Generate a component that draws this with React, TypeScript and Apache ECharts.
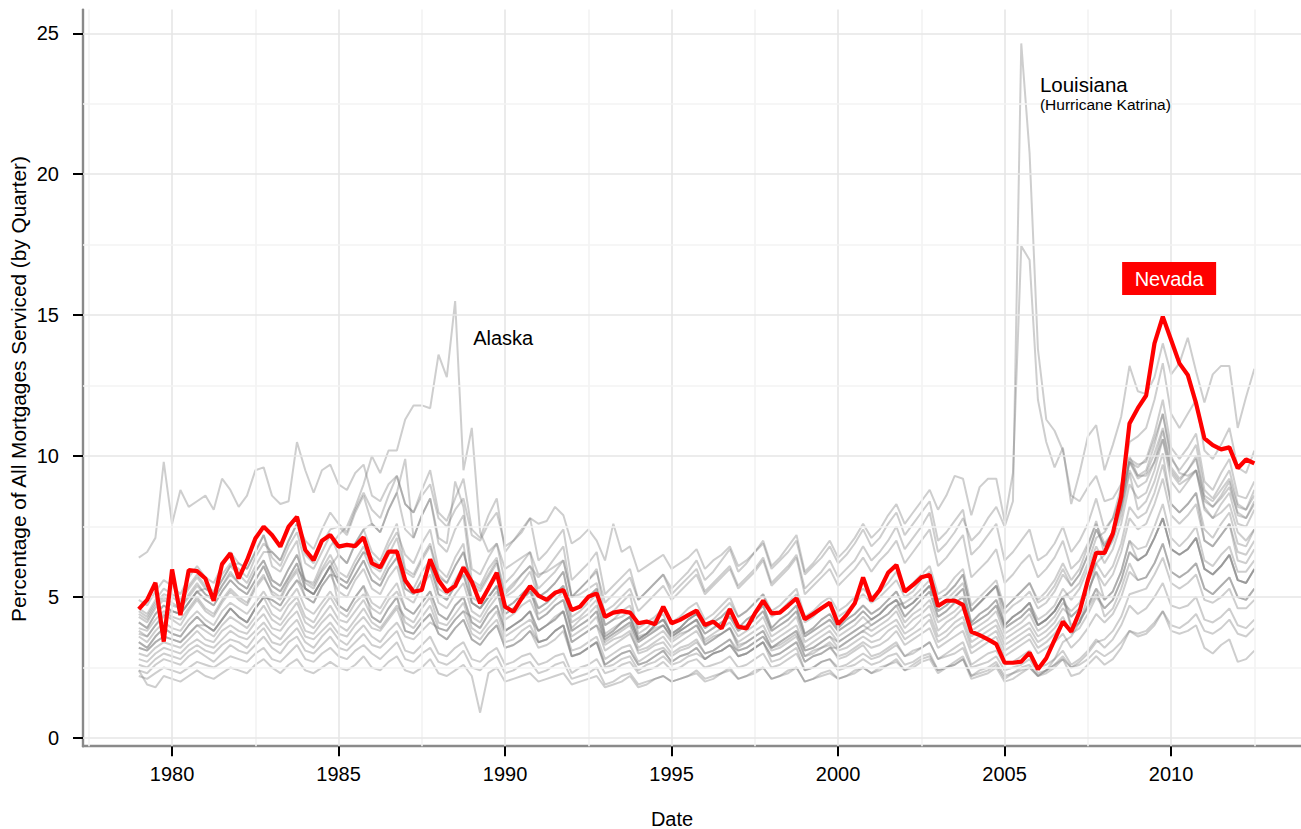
import React, { useEffect, useRef } from "react";
import * as echarts from "echarts";

// ---------- axes ----------
const FIRST_YEAR = 1979;
const X_MIN = 1977.325;
const X_MAX = 2013.9;
const Y_MIN = -0.29;
const Y_MAX = 25.84;
const X_TICKS = [1980, 1985, 1990, 1995, 2000, 2005, 2010];
const X_MINOR = [1977.5, 1982.5, 1987.5, 1992.5, 1997.5, 2002.5, 2007.5, 2012.5];
const Y_TICKS = [0, 5, 10, 15, 20, 25];
const Y_MINOR = [2.5, 7.5, 12.5, 17.5, 22.5];

// ---------- data (percent, quarterly 1979 Q1 .. 2012 Q3) ----------
const NEVADA = [
  4.57, 4.9, 5.51, 3.42, 5.98, 4.36, 5.96, 5.92, 5.66, 4.87, 6.17, 6.55,
  5.66, 6.31, 7.08, 7.5, 7.2, 6.79, 7.5, 7.85, 6.67, 6.31, 7.0, 7.2,
  6.79, 6.85, 6.81, 7.12, 6.2, 6.05, 6.61, 6.61, 5.6, 5.19, 5.25, 6.34,
  5.6, 5.19, 5.39, 6.05, 5.54, 4.78, 5.31, 5.86, 4.66, 4.48, 4.96, 5.39,
  5.05, 4.9, 5.15, 5.25, 4.54, 4.66, 5.01, 5.13, 4.3, 4.45, 4.5, 4.45,
  4.07, 4.13, 4.04, 4.66, 4.07, 4.19, 4.36, 4.52, 4.01, 4.13, 3.89, 4.57,
  3.95, 3.89, 4.42, 4.87, 4.42, 4.45, 4.7, 4.96, 4.21, 4.4, 4.6, 4.8,
  4.04, 4.36, 4.78, 5.7, 4.87, 5.25, 5.86, 6.14, 5.19, 5.43, 5.7, 5.78,
  4.68, 4.87, 4.87, 4.72, 3.77, 3.65, 3.5, 3.33, 2.67, 2.67, 2.71, 3.03,
  2.44, 2.83, 3.48, 4.13, 3.77, 4.48, 5.6, 6.57, 6.57, 7.26, 8.56, 11.16,
  11.7, 12.15, 14.0, 14.95, 14.12, 13.29, 12.88, 11.87, 10.63, 10.39, 10.24, 10.31,
  9.57, 9.88, 9.74,
];

const ALASKA = [
  3.8, 3.6, 4.0, 4.4, 4.2, 4.0, 4.5, 4.9, 4.5, 4.3, 4.8, 5.2,
  4.9, 4.7, 5.3, 5.7, 5.2, 5.0, 5.6, 6.0, 5.6, 5.5, 6.2, 6.8,
  7.2, 7.5, 8.2, 9.0, 10.0, 9.4, 10.2, 10.2, 11.3, 11.8, 11.8, 11.7,
  13.6, 12.8, 15.5, 9.5, 11.0, 7.3, 6.6, 6.9, 6.0, 6.2, 6.4, 6.6,
  5.8, 5.9, 6.1, 6.3, 5.0, 5.1, 5.3, 5.5, 4.0, 4.2, 4.3, 4.5,
  3.6, 3.7, 3.9, 4.0, 3.5, 3.7, 3.8, 4.0, 3.4, 3.6, 3.7, 3.9,
  3.3, 3.4, 3.6, 3.8, 3.2, 3.3, 3.5, 3.7, 2.9, 3.0, 3.2, 3.3,
  2.8, 2.9, 3.1, 3.3, 2.9, 3.0, 3.2, 3.4, 2.9, 3.0, 3.2, 3.4,
  2.8, 2.9, 3.0, 3.2, 2.5, 2.6, 2.7, 2.9, 2.4, 2.5, 2.6, 2.8,
  2.3, 2.4, 2.6, 2.9, 2.5, 2.6, 2.8, 3.1, 2.9, 3.1, 3.4, 3.8,
  3.7, 3.8, 4.1, 4.5, 4.0, 3.9, 4.1, 4.4, 3.8, 3.7, 3.9, 4.2,
  3.7, 3.6, 3.9,
];

const LOUISIANA = [
  4.6, 4.4, 4.9, 5.3, 5.1, 4.9, 5.4, 5.8, 5.4, 5.2, 5.8, 6.2,
  6.0, 5.7, 6.4, 6.9, 6.6, 6.3, 7.0, 7.6, 7.0, 6.7, 7.4, 8.0,
  7.6, 7.3, 8.1, 8.7, 8.1, 7.8, 8.6, 9.3, 8.3, 8.0, 8.8, 9.5,
  8.0, 7.7, 8.5, 9.2, 7.4, 7.1, 7.9, 8.5, 6.6, 7.0, 7.4, 7.8,
  6.3, 6.6, 7.0, 7.4, 5.6, 5.9, 6.2, 6.6, 5.1, 5.4, 5.7, 6.0,
  4.9, 5.2, 5.5, 5.8, 5.1, 5.4, 5.7, 6.0, 5.2, 5.5, 5.8, 6.1,
  5.4, 5.7, 6.0, 6.4, 5.5, 5.8, 6.1, 6.5, 5.3, 5.6, 5.9, 6.3,
  5.7, 6.0, 6.3, 6.8, 6.3, 6.6, 7.0, 7.5, 6.7, 7.1, 7.5, 8.0,
  6.6, 6.9, 7.3, 7.8, 7.0, 7.3, 7.8, 8.2, 7.5, 8.4, 24.64, 20.74,
  13.8, 11.3, 10.9, 10.2, 8.6, 8.4, 8.9, 9.3, 8.4, 8.5, 9.0, 10.0,
  9.3, 9.3, 9.8, 10.6, 9.4, 9.0, 9.2, 9.5, 8.5, 8.2, 8.5, 8.9,
  8.0, 7.8, 8.3,
];

const MISSISSIPPI = [
  4.4, 4.2, 4.7, 5.0, 4.8, 4.6, 5.1, 5.5, 5.1, 4.9, 5.4, 5.9,
  5.5, 5.3, 5.9, 6.3, 5.6, 5.4, 6.0, 6.5, 5.6, 5.4, 6.0, 6.5,
  5.9, 5.7, 6.3, 6.8, 6.1, 5.9, 6.5, 7.1, 5.9, 5.7, 6.3, 6.8,
  5.7, 5.5, 6.1, 6.6, 5.5, 5.3, 5.8, 6.3, 5.2, 5.5, 5.8, 6.1,
  5.3, 5.6, 5.9, 6.3, 5.0, 5.3, 5.6, 5.9, 4.8, 5.1, 5.4, 5.7,
  4.9, 5.2, 5.5, 5.8, 5.3, 5.6, 5.9, 6.3, 5.6, 5.9, 6.3, 6.7,
  5.9, 6.2, 6.6, 7.0, 6.1, 6.4, 6.8, 7.2, 5.9, 6.2, 6.6, 7.0,
  6.4, 6.7, 7.1, 7.6, 7.1, 7.4, 7.9, 8.3, 7.6, 8.0, 8.4, 8.8,
  8.1, 8.6, 9.3, 9.2, 7.9, 8.9, 9.2, 9.2, 7.7, 9.4, 17.45, 16.96,
  12.0, 10.5, 9.6, 10.3, 8.3, 9.4, 10.7, 11.1, 9.5, 10.4, 11.4, 13.2,
  12.3, 12.2, 12.8, 14.0, 12.9, 13.3, 14.2, 13.0, 11.9, 12.9, 13.2, 13.2,
  11.0, 12.1, 13.1,
];

const HIGH_EARLY = [
  6.4, 6.6, 7.1, 9.8, 7.6, 8.8, 8.2, 8.4, 8.6, 8.1, 9.2, 8.8,
  8.2, 8.6, 9.5, 9.6, 8.6, 8.3, 8.4, 10.5, 9.5, 8.7, 9.5, 9.7,
  9.0, 8.8, 9.4, 9.7, 8.6, 8.4, 9.0, 9.3, 8.3, 8.0, 8.6, 9.0,
  7.8, 7.5, 8.1, 8.5, 7.2, 7.0, 7.6, 8.0, 6.8, 7.0, 7.3, 7.8,
  7.6, 7.7, 8.2, 7.9, 6.9, 7.1, 7.4, 7.0, 6.3, 7.6, 6.6, 6.8,
  5.9, 6.1, 6.3, 6.5, 6.0, 6.2, 6.4, 6.7, 6.0, 6.3, 6.5, 6.8,
  6.1, 6.3, 6.6, 6.9, 6.0, 6.3, 6.6, 7.0, 5.8, 6.1, 6.4, 6.8,
  6.2, 6.5, 6.9, 7.4, 6.8, 7.1, 7.6, 8.0, 7.2, 7.6, 8.0, 8.4,
  7.0, 7.3, 7.7, 8.1, 6.5, 6.8, 7.2, 7.6, 6.3, 6.6, 7.0, 7.4,
  6.3, 6.5, 6.9, 7.5, 6.6, 7.0, 7.6, 8.5, 7.4, 7.8, 8.6, 9.8,
  9.2, 9.4, 10.1, 11.0, 9.6, 9.2, 9.5, 9.9, 8.6, 8.4, 8.8, 9.2,
  8.2, 8.1, 8.6,
];

const STATE_G1 = [
  2.4, 1.9, 1.8, 2.2, 2.1, 2.0, 2.2, 2.4, 2.2, 2.1, 2.3, 2.5,
  2.4, 2.3, 2.6, 2.8, 2.5, 2.3, 2.6, 2.8, 2.4, 2.3, 2.5, 2.7,
  2.5, 2.4, 2.6, 2.9, 2.5, 2.4, 2.7, 2.9, 2.4, 2.3, 2.5, 2.8,
  2.3, 2.2, 2.4, 2.6, 2.2, 0.9, 2.3, 2.5, 2.0, 2.1, 2.2, 2.3,
  2.0, 2.1, 2.2, 2.3, 1.9, 2.0, 2.1, 2.2, 1.8, 1.9, 2.0, 2.2,
  1.8, 1.9, 2.1, 2.2, 2.0, 2.1, 2.2, 2.4, 2.1, 2.2, 2.3, 2.5,
  2.1, 2.2, 2.4, 2.5, 2.1, 2.2, 2.4, 2.5, 2.0, 2.1, 2.3, 2.4,
  2.1, 2.2, 2.4, 2.5, 2.3, 2.5, 2.6, 2.8, 2.4, 2.6, 2.8, 2.9,
  2.4, 2.5, 2.7, 2.9, 2.2, 2.4, 2.5, 2.7, 2.2, 2.3, 2.5, 2.6,
  2.2, 2.4, 2.6, 2.8, 2.2, 2.3, 2.6, 2.9, 2.6, 2.8, 3.2, 3.8,
  3.6, 3.7, 4.0, 4.5, 3.8, 3.7, 3.8, 4.0, 3.2, 3.0, 3.3, 3.5,
  2.7, 2.8, 3.1,
];

const STATE_G2 = [
  2.4, 2.3, 2.6, 2.8, 2.7, 2.6, 2.9, 3.1, 2.9, 2.7, 3.0, 3.3,
  3.1, 3.0, 3.3, 3.6, 3.2, 3.0, 3.4, 3.6, 3.1, 3.0, 3.3, 3.6,
  3.2, 3.1, 3.4, 3.7, 3.3, 3.2, 3.5, 3.8, 3.1, 3.0, 3.3, 3.6,
  3.0, 2.9, 3.2, 3.4, 2.8, 2.7, 3.0, 3.2, 2.6, 2.7, 2.9, 3.0,
  2.6, 2.7, 2.9, 3.0, 2.3, 2.5, 2.6, 2.8, 2.3, 2.4, 2.6, 2.7,
  2.3, 2.4, 2.5, 2.7, 2.4, 2.5, 2.7, 2.8, 2.5, 2.6, 2.7, 2.9,
  2.5, 2.6, 2.8, 3.0, 2.5, 2.6, 2.8, 3.0, 2.4, 2.5, 2.7, 2.8,
  2.5, 2.6, 2.8, 3.0, 2.8, 2.9, 3.1, 3.3, 2.9, 3.1, 3.2, 3.4,
  2.8, 3.0, 3.2, 3.4, 2.6, 2.8, 3.0, 3.1, 2.6, 2.7, 2.9, 3.1,
  2.5, 2.6, 2.8, 3.1, 2.6, 2.8, 3.1, 3.5, 3.2, 3.5, 4.0, 4.7,
  4.4, 4.6, 5.0, 5.5, 4.7, 4.6, 4.7, 5.0, 4.2, 4.1, 4.3, 4.6,
  4.0, 3.9, 4.2,
];

const STATE_G3 = [
  2.8, 2.7, 3.0, 3.2, 3.1, 3.0, 3.3, 3.5, 3.3, 3.2, 3.5, 3.8,
  3.6, 3.5, 3.8, 4.1, 3.7, 3.5, 3.9, 4.2, 3.6, 3.5, 3.8, 4.1,
  3.7, 3.6, 4.0, 4.3, 3.9, 3.8, 4.2, 4.6, 3.8, 3.7, 4.1, 4.4,
  3.7, 3.5, 3.9, 4.2, 3.5, 3.3, 3.7, 4.0, 3.2, 3.3, 3.5, 3.8,
  3.2, 3.3, 3.5, 3.8, 2.9, 3.0, 3.2, 3.4, 2.6, 2.8, 3.0, 3.1,
  2.6, 2.7, 2.9, 3.1, 2.7, 2.9, 3.0, 3.2, 2.8, 3.0, 3.1, 3.3,
  2.9, 3.0, 3.2, 3.4, 2.9, 3.0, 3.2, 3.4, 2.7, 2.9, 3.0, 3.2,
  2.9, 3.0, 3.2, 3.4, 3.2, 3.3, 3.5, 3.8, 3.3, 3.5, 3.7, 3.9,
  3.2, 3.4, 3.6, 3.8, 3.0, 3.2, 3.4, 3.6, 2.9, 3.1, 3.3, 3.5,
  3.0, 3.2, 3.4, 3.7, 3.2, 3.5, 3.9, 4.4, 4.1, 4.4, 5.0, 5.9,
  5.6, 5.7, 6.2, 6.9, 5.9, 5.7, 5.9, 6.2, 5.3, 5.1, 5.4, 5.7,
  5.0, 4.9, 5.3,
];

const STATE_G4 = [
  3.2, 3.1, 3.4, 3.6, 3.5, 3.4, 3.7, 4.0, 3.8, 3.6, 4.0, 4.3,
  4.1, 3.9, 4.3, 4.7, 4.2, 4.0, 4.4, 4.8, 4.1, 3.9, 4.3, 4.7,
  4.2, 4.1, 4.5, 4.9, 4.3, 4.1, 4.6, 5.0, 4.1, 3.9, 4.3, 4.7,
  3.9, 3.8, 4.2, 4.5, 3.7, 3.5, 3.9, 4.2, 3.4, 3.5, 3.8, 4.0,
  3.4, 3.5, 3.8, 4.0, 3.1, 3.2, 3.4, 3.6, 2.8, 3.0, 3.2, 3.3,
  2.7, 2.9, 3.1, 3.2, 2.9, 3.1, 3.2, 3.4, 3.0, 3.1, 3.3, 3.5,
  3.1, 3.2, 3.4, 3.6, 3.1, 3.2, 3.4, 3.6, 2.9, 3.1, 3.2, 3.4,
  3.1, 3.2, 3.4, 3.6, 3.4, 3.5, 3.8, 4.0, 3.5, 3.7, 3.9, 4.2,
  3.4, 3.6, 3.9, 4.1, 3.2, 3.4, 3.6, 3.8, 3.1, 3.3, 3.5, 3.7,
  3.2, 3.4, 3.7, 4.1, 3.8, 4.1, 4.7, 5.3, 4.9, 5.2, 5.9, 7.0,
  6.7, 6.8, 7.5, 8.3, 7.1, 6.8, 7.1, 7.5, 6.3, 6.1, 6.5, 6.8,
  5.9, 5.9, 6.3,
];

const STATE_G5 = [
  3.6, 3.4, 3.8, 4.1, 3.9, 3.8, 4.2, 4.5, 4.2, 4.0, 4.5, 4.8,
  4.6, 4.4, 4.8, 5.2, 4.7, 4.5, 4.9, 5.3, 4.6, 4.4, 4.8, 5.2,
  4.7, 4.5, 5.0, 5.4, 4.8, 4.6, 5.1, 5.5, 4.6, 4.4, 4.8, 5.2,
  4.4, 4.2, 4.7, 5.0, 4.1, 3.9, 4.4, 4.7, 3.8, 4.0, 4.2, 4.5,
  3.8, 4.0, 4.2, 4.5, 3.4, 3.6, 3.8, 4.0, 3.1, 3.3, 3.5, 3.7,
  3.1, 3.2, 3.4, 3.6, 3.2, 3.4, 3.6, 3.8, 3.3, 3.5, 3.7, 3.9,
  3.4, 3.6, 3.8, 4.0, 3.4, 3.6, 3.8, 4.0, 3.2, 3.4, 3.6, 3.8,
  3.4, 3.6, 3.8, 4.0, 3.8, 4.0, 4.2, 4.5, 3.9, 4.2, 4.4, 4.7,
  3.8, 4.1, 4.3, 4.6, 3.6, 3.8, 4.0, 4.2, 3.5, 3.7, 3.9, 4.1,
  3.6, 3.8, 4.1, 4.6, 4.3, 4.6, 5.2, 5.9, 5.4, 5.8, 6.6, 7.8,
  7.4, 7.6, 8.3, 9.2, 7.9, 7.6, 7.9, 8.3, 7.0, 6.8, 7.2, 7.6,
  6.6, 6.5, 7.0,
];

const STATE_G6 = [
  3.9, 3.8, 4.2, 4.5, 4.3, 4.2, 4.6, 5.0, 4.6, 4.4, 4.9, 5.3,
  5.0, 4.8, 5.4, 5.8, 5.1, 4.9, 5.5, 5.9, 5.0, 4.8, 5.4, 5.8,
  5.2, 5.0, 5.6, 6.0, 5.3, 5.1, 5.7, 6.1, 5.0, 4.8, 5.4, 5.8,
  4.8, 4.6, 5.1, 5.5, 4.5, 4.3, 4.8, 5.2, 4.2, 4.4, 4.7, 4.9,
  4.2, 4.4, 4.7, 4.9, 3.8, 4.0, 4.2, 4.5, 3.4, 3.6, 3.8, 4.0,
  3.2, 3.4, 3.6, 3.8, 3.4, 3.6, 3.8, 4.0, 3.5, 3.7, 3.9, 4.1,
  3.6, 3.8, 4.0, 4.3, 3.6, 3.8, 4.0, 4.3, 3.4, 3.6, 3.8, 4.0,
  3.6, 3.8, 4.0, 4.3, 4.0, 4.2, 4.4, 4.7, 4.1, 4.4, 4.6, 4.9,
  4.1, 4.3, 4.5, 4.8, 3.8, 4.0, 4.2, 4.5, 3.7, 3.9, 4.1, 4.4,
  3.8, 4.0, 4.3, 4.8, 4.5, 4.8, 5.5, 6.2, 5.7, 6.1, 6.9, 8.2,
  7.8, 8.0, 8.7, 9.7, 8.3, 8.0, 8.3, 8.7, 7.4, 7.1, 7.6, 8.0,
  6.9, 6.8, 7.4,
];

const STATE_G7 = [
  4.3, 4.1, 4.6, 4.9, 4.7, 4.6, 5.0, 5.4, 5.1, 4.9, 5.4, 5.8,
  5.5, 5.3, 5.9, 6.3, 5.6, 5.4, 6.0, 6.5, 5.5, 5.3, 5.9, 6.3,
  5.7, 5.5, 6.1, 6.6, 5.9, 5.6, 6.2, 6.7, 5.5, 5.3, 5.9, 6.3,
  5.3, 5.1, 5.6, 6.1, 5.0, 4.8, 5.3, 5.7, 4.6, 4.8, 5.1, 5.4,
  4.6, 4.8, 5.1, 5.4, 4.1, 4.3, 4.6, 4.9, 3.7, 3.9, 4.1, 4.3,
  3.5, 3.7, 4.0, 4.2, 3.7, 3.9, 4.2, 4.4, 3.9, 4.1, 4.3, 4.6,
  3.9, 4.2, 4.4, 4.7, 3.9, 4.2, 4.4, 4.7, 3.7, 3.9, 4.2, 4.4,
  3.9, 4.2, 4.4, 4.7, 4.4, 4.6, 4.9, 5.2, 4.6, 4.8, 5.1, 5.4,
  4.5, 4.7, 5.0, 5.3, 4.1, 4.4, 4.6, 4.9, 4.0, 4.3, 4.5, 4.8,
  4.2, 4.4, 4.7, 5.3, 4.9, 5.3, 6.0, 6.8, 6.2, 6.7, 7.6, 9.0,
  8.5, 8.7, 9.5, 10.6, 9.1, 8.7, 9.1, 9.5, 8.1, 7.8, 8.3, 8.7,
  7.6, 7.5, 8.1,
];

const STATE_G8 = [
  4.9, 4.7, 5.2, 5.6, 5.4, 5.1, 5.7, 6.1, 5.7, 5.5, 6.1, 6.6,
  6.2, 6.0, 6.6, 7.2, 6.4, 6.1, 6.8, 7.3, 6.2, 6.0, 6.6, 7.2,
  6.5, 6.2, 6.9, 7.4, 6.6, 6.3, 7.0, 7.6, 6.0, 5.8, 6.4, 6.9,
  5.8, 5.5, 6.1, 6.6, 5.4, 5.2, 5.7, 6.2, 5.0, 5.2, 5.5, 5.9,
  5.0, 5.2, 5.5, 5.9, 4.5, 4.7, 5.0, 5.3, 4.0, 4.2, 4.5, 4.7,
  3.9, 4.1, 4.3, 4.6, 4.1, 4.3, 4.6, 4.8, 4.2, 4.4, 4.7, 5.0,
  4.3, 4.5, 4.8, 5.1, 4.3, 4.5, 4.8, 5.1, 4.1, 4.3, 4.6, 4.8,
  4.3, 4.5, 4.8, 5.1, 4.8, 5.0, 5.3, 5.6, 5.0, 5.2, 5.6, 5.9,
  4.9, 5.1, 5.4, 5.8, 4.5, 4.8, 5.1, 5.4, 4.4, 4.7, 4.9, 5.2,
  4.6, 4.8, 5.2, 5.8, 5.4, 5.8, 6.5, 7.4, 6.8, 7.3, 8.3, 9.8,
  9.3, 9.5, 10.4, 11.5, 9.9, 9.5, 9.9, 10.4, 8.8, 8.5, 9.0, 9.5,
  8.3, 8.1, 8.8,
];

const STATE_G9 = [
  4.5, 4.3, 4.8, 5.1, 5.0, 4.8, 5.3, 5.7, 5.3, 5.1, 5.6, 6.1,
  5.8, 5.5, 6.1, 6.6, 6.6, 6.3, 7.0, 7.6, 6.5, 6.2, 6.9, 7.4,
  7.5, 7.2, 8.0, 8.6, 7.6, 7.3, 8.1, 8.7, 9.9, 7.1, 7.9, 8.5,
  7.1, 6.9, 9.1, 8.2, 6.0, 5.8, 6.4, 6.9, 5.5, 5.8, 6.2, 6.6,
  5.0, 5.2, 5.5, 5.9, 4.5, 4.7, 5.0, 5.3, 3.6, 3.8, 4.1, 4.3,
  3.5, 3.7, 4.0, 4.2, 3.7, 3.9, 4.2, 4.4, 3.9, 4.1, 4.3, 4.6,
  3.9, 4.2, 4.4, 4.7, 3.9, 4.2, 4.4, 4.7, 3.7, 3.9, 4.2, 4.4,
  3.9, 4.2, 4.4, 4.7, 4.4, 4.6, 4.9, 5.2, 4.6, 4.8, 5.1, 5.4,
  4.5, 4.7, 5.0, 5.3, 4.1, 4.4, 4.6, 4.9, 4.0, 4.3, 4.5, 4.8,
  4.0, 4.2, 4.5, 5.0, 4.0, 4.2, 4.6, 5.1, 4.6, 4.9, 5.6, 6.6,
  6.3, 6.5, 7.1, 7.8, 6.7, 6.5, 6.7, 7.1, 6.0, 5.8, 6.1, 6.5,
  5.6, 5.5, 6.0,
];

const STATE_G10 = [
  3.4, 3.2, 3.6, 3.9, 3.7, 3.6, 4.0, 4.3, 4.0, 3.8, 4.2, 4.6,
  4.3, 4.1, 4.6, 5.0, 4.4, 4.2, 4.7, 5.0, 4.3, 4.1, 4.6, 5.0,
  4.5, 4.3, 4.8, 5.1, 4.6, 4.4, 4.9, 5.2, 4.6, 4.4, 4.8, 5.2,
  4.4, 4.2, 4.7, 5.0, 4.1, 3.9, 4.4, 4.7, 3.8, 4.0, 4.2, 4.5,
  3.8, 4.0, 4.2, 4.5, 3.4, 3.6, 3.8, 4.0, 3.5, 3.7, 3.9, 4.1,
  3.4, 3.6, 3.8, 4.0, 3.6, 3.8, 4.0, 4.2, 3.7, 3.9, 4.1, 4.3,
  3.8, 4.0, 4.2, 4.5, 3.8, 4.0, 4.2, 4.5, 3.6, 3.8, 4.0, 4.2,
  3.8, 4.0, 4.2, 4.5, 4.2, 4.4, 4.7, 4.9, 4.3, 4.6, 4.9, 5.2,
  4.3, 4.5, 4.8, 5.0, 4.0, 4.2, 4.4, 4.7, 3.9, 4.1, 4.3, 4.6,
  4.0, 4.2, 4.5, 5.0, 5.2, 5.5, 6.2, 7.1, 7.3, 7.8, 8.9, 10.5,
  10.7, 11.0, 12.0, 13.3, 11.5, 11.0, 11.5, 12.0, 10.2, 9.9, 10.4, 11.0,
  9.6, 9.4, 10.2,
];

const STATE_G11 = [
  3.0, 2.9, 3.2, 3.4, 3.3, 3.2, 3.5, 3.8, 3.5, 3.4, 3.8, 4.0,
  3.8, 3.7, 4.1, 4.4, 3.9, 3.8, 4.2, 4.5, 3.8, 3.7, 4.1, 4.4,
  4.0, 3.8, 4.2, 4.6, 4.1, 3.9, 4.3, 4.7, 4.3, 4.1, 4.6, 5.0,
  4.1, 4.0, 4.4, 4.8, 3.9, 3.7, 4.1, 4.5, 3.6, 3.8, 4.0, 4.2,
  3.8, 4.0, 4.3, 4.5, 3.6, 3.8, 4.0, 4.3, 3.3, 3.5, 3.6, 3.8,
  3.0, 3.1, 3.3, 3.4, 3.0, 3.2, 3.3, 3.5, 3.0, 3.1, 3.3, 3.5,
  2.9, 3.0, 3.2, 3.4, 2.7, 2.8, 3.0, 3.2, 2.4, 2.5, 2.7, 2.8,
  2.4, 2.5, 2.6, 2.8, 2.6, 2.7, 2.9, 3.0, 2.6, 2.7, 2.9, 3.0,
  2.4, 2.5, 2.6, 2.8, 2.1, 2.2, 2.3, 2.5, 2.0, 2.1, 2.3, 2.5,
  2.2, 2.4, 2.8, 3.4, 3.6, 4.1, 5.0, 6.2, 6.5, 7.1, 8.2, 9.9,
  9.7, 9.8, 10.6, 11.5, 10.0, 9.4, 9.3, 9.5, 8.2, 7.8, 8.0, 8.3,
  7.3, 7.0, 7.4,
];

const STATE_G12 = [
  4.1, 3.9, 4.4, 4.7, 4.5, 4.4, 4.8, 5.2, 4.9, 4.7, 5.2, 5.6,
  5.3, 5.1, 5.6, 6.1, 5.4, 5.2, 5.7, 6.2, 5.3, 5.1, 5.6, 6.1,
  5.5, 5.3, 5.8, 6.3, 5.6, 5.4, 6.0, 6.4, 5.3, 5.1, 5.6, 6.1,
  5.1, 4.9, 5.4, 5.8, 4.8, 4.6, 5.0, 5.4, 4.4, 4.6, 4.9, 5.2,
  4.6, 4.8, 5.1, 5.4, 4.3, 4.5, 4.8, 5.1, 4.5, 4.7, 5.0, 5.3,
  4.5, 4.8, 5.1, 5.4, 4.9, 5.2, 5.5, 5.8, 5.1, 5.4, 5.7, 6.0,
  5.3, 5.6, 5.9, 6.3, 5.4, 5.7, 6.0, 6.4, 5.1, 5.4, 5.7, 6.0,
  5.4, 5.7, 6.0, 6.4, 5.9, 6.3, 6.6, 7.0, 6.2, 6.6, 7.0, 7.4,
  6.1, 6.4, 6.8, 7.2, 5.7, 6.0, 6.3, 6.7, 5.5, 5.8, 6.2, 6.5,
  5.7, 6.0, 6.4, 7.0, 6.0, 6.3, 6.9, 7.6, 6.9, 7.3, 8.1, 9.5,
  8.9, 9.1, 9.8, 10.9, 9.5, 9.1, 9.5, 10.0, 8.4, 8.2, 8.6, 9.1,
  7.9, 7.8, 8.4,
];

const STATE_G13 = [
  3.4, 3.2, 3.6, 3.9, 3.7, 3.6, 4.0, 4.3, 4.0, 3.8, 4.2, 4.6,
  4.3, 4.1, 4.6, 5.0, 4.9, 4.7, 5.2, 5.6, 5.3, 5.1, 5.6, 6.1,
  6.5, 6.2, 6.9, 7.4, 7.6, 7.3, 8.1, 8.7, 7.4, 7.1, 7.9, 8.5,
  6.9, 6.6, 7.4, 7.9, 5.6, 5.4, 6.0, 6.4, 4.6, 4.8, 5.1, 5.4,
  4.2, 4.4, 4.7, 4.9, 3.8, 4.0, 4.2, 4.5, 3.5, 3.7, 3.9, 4.1,
  3.4, 3.6, 3.8, 4.0, 3.6, 3.8, 4.0, 4.2, 3.7, 3.9, 4.1, 4.3,
  3.8, 4.0, 4.2, 4.5, 3.8, 4.0, 4.2, 4.5, 3.6, 3.8, 4.0, 4.2,
  3.8, 4.0, 4.2, 4.5, 4.2, 4.4, 4.7, 4.9, 4.3, 4.6, 4.9, 5.2,
  4.3, 4.5, 4.8, 5.0, 4.0, 4.2, 4.4, 4.7, 3.9, 4.1, 4.3, 4.6,
  4.0, 4.2, 4.5, 5.0, 3.9, 4.1, 4.7, 5.3, 4.3, 4.6, 5.3, 6.2,
  5.6, 5.7, 6.2, 6.9, 5.9, 5.7, 5.9, 6.2, 5.3, 5.1, 5.4, 5.7,
  5.0, 4.9, 5.3,
];

const STATE_G14 = [
  2.6, 2.5, 2.8, 3.0, 2.9, 2.8, 3.1, 3.3, 3.1, 3.0, 3.3, 3.5,
  3.4, 3.2, 3.6, 3.9, 3.4, 3.3, 3.6, 3.9, 3.4, 3.2, 3.6, 3.9,
  3.5, 3.3, 3.7, 4.0, 3.6, 3.4, 3.8, 4.1, 3.6, 3.5, 3.8, 4.1,
  3.9, 3.8, 4.2, 4.5, 4.3, 4.1, 4.6, 5.0, 5.1, 5.4, 5.8, 6.1,
  5.7, 6.0, 6.4, 6.8, 5.0, 5.3, 5.6, 6.0, 4.3, 4.5, 4.8, 5.1,
  3.7, 3.9, 4.2, 4.4, 3.6, 3.8, 4.0, 4.2, 3.3, 3.5, 3.7, 3.9,
  3.2, 3.4, 3.6, 3.8, 3.2, 3.4, 3.6, 3.8, 3.1, 3.2, 3.4, 3.6,
  3.2, 3.4, 3.6, 3.8, 3.6, 3.8, 4.0, 4.2, 3.7, 3.9, 4.2, 4.4,
  3.6, 3.8, 4.1, 4.3, 3.4, 3.6, 3.8, 4.0, 3.3, 3.5, 3.7, 3.9,
  3.4, 3.6, 3.9, 4.3, 3.7, 3.9, 4.4, 5.0, 4.6, 4.9, 5.6, 6.6,
  6.3, 6.5, 7.1, 7.8, 6.7, 6.5, 6.7, 7.1, 6.0, 5.8, 6.1, 6.5,
  5.6, 5.5, 6.0,
];

const STATE_G15 = [
  3.2, 3.1, 3.4, 3.6, 3.5, 3.4, 3.7, 4.0, 4.0, 3.8, 4.2, 4.6,
  4.3, 4.1, 4.6, 5.0, 4.9, 4.7, 5.2, 5.6, 5.0, 4.8, 5.4, 5.8,
  5.7, 5.5, 6.1, 6.6, 6.4, 6.1, 6.8, 7.3, 6.5, 6.2, 6.9, 7.4,
  6.0, 5.7, 6.4, 6.9, 4.8, 4.6, 5.0, 5.4, 3.8, 4.0, 4.2, 4.5,
  3.4, 3.5, 3.8, 4.0, 2.9, 3.0, 3.2, 3.4, 2.6, 2.8, 3.0, 3.1,
  2.6, 2.7, 2.9, 3.1, 2.7, 2.9, 3.0, 3.2, 2.8, 3.0, 3.1, 3.3,
  2.9, 3.0, 3.2, 3.4, 2.9, 3.0, 3.2, 3.4, 2.7, 2.9, 3.0, 3.2,
  3.2, 3.4, 3.6, 3.8, 4.0, 4.2, 4.4, 4.7, 4.8, 5.0, 5.3, 5.6,
  4.9, 5.1, 5.4, 5.8, 4.5, 4.8, 5.1, 5.4, 4.0, 4.3, 4.5, 4.8,
  4.0, 4.2, 4.5, 5.0, 4.3, 4.6, 5.2, 5.9, 4.9, 5.2, 5.9, 7.0,
  6.3, 6.5, 7.1, 7.8, 6.7, 6.5, 6.7, 7.1, 6.0, 5.8, 6.1, 6.5,
  5.6, 5.5, 6.0,
];

const STATE_G16 = [
  4.1, 3.9, 4.4, 4.7, 4.5, 4.4, 4.8, 5.2, 4.9, 4.7, 5.2, 5.6,
  5.3, 5.1, 5.6, 6.1, 5.4, 5.2, 5.7, 6.2, 5.3, 5.1, 5.6, 6.1,
  5.5, 5.3, 5.8, 6.3, 5.6, 5.4, 6.0, 6.4, 5.3, 5.1, 5.6, 6.1,
  5.1, 4.9, 5.4, 5.8, 4.8, 4.6, 5.0, 5.4, 4.4, 4.6, 4.9, 5.2,
  4.4, 4.6, 4.9, 5.2, 3.9, 4.2, 4.4, 4.7, 3.6, 3.8, 4.1, 4.3,
  3.5, 3.7, 4.0, 4.2, 3.7, 3.9, 4.2, 4.4, 4.0, 4.2, 4.5, 4.8,
  4.3, 4.5, 4.8, 5.1, 4.5, 4.7, 5.0, 5.3, 4.3, 4.5, 4.8, 5.0,
  4.5, 4.7, 5.0, 5.3, 5.0, 5.2, 5.5, 5.9, 5.2, 5.5, 5.8, 6.1,
  5.1, 5.3, 5.7, 6.0, 4.7, 5.0, 5.3, 5.6, 4.6, 4.9, 5.2, 5.5,
  4.8, 5.0, 5.4, 6.0, 5.4, 5.8, 6.5, 7.4, 6.8, 7.3, 8.3, 9.8,
  9.6, 9.9, 10.8, 12.0, 10.3, 9.9, 10.3, 10.8, 9.1, 8.8, 9.4, 9.9,
  8.6, 8.5, 9.1,
];

const STATE_G17 = [
  2.2, 2.1, 2.3, 2.5, 2.4, 2.3, 2.5, 2.7, 2.6, 2.5, 2.7, 2.9,
  2.8, 2.7, 3.0, 3.2, 2.8, 2.7, 3.0, 3.3, 2.8, 2.7, 3.0, 3.2,
  2.9, 2.8, 3.1, 3.3, 3.0, 2.8, 3.1, 3.4, 2.8, 2.7, 3.0, 3.2,
  2.7, 2.6, 2.8, 3.1, 2.5, 2.4, 2.7, 2.9, 2.3, 2.4, 2.6, 2.7,
  2.3, 2.4, 2.6, 2.7, 2.1, 2.2, 2.3, 2.5, 1.9, 2.0, 2.2, 2.3,
  1.9, 2.0, 2.1, 2.2, 2.0, 2.1, 2.2, 2.3, 2.0, 2.1, 2.3, 2.4,
  2.1, 2.2, 2.3, 2.5, 2.1, 2.2, 2.3, 2.5, 2.0, 2.1, 2.2, 2.3,
  2.1, 2.2, 2.3, 2.5, 2.3, 2.4, 2.6, 2.7, 2.4, 2.5, 2.7, 2.8,
  2.3, 2.5, 2.6, 2.8, 2.2, 2.3, 2.4, 2.6, 2.1, 2.3, 2.4, 2.5,
  2.2, 2.3, 2.5, 2.8, 2.5, 2.7, 3.0, 3.4, 3.5, 3.8, 4.3, 5.1,
  5.2, 5.3, 5.8, 6.4, 5.5, 5.3, 5.5, 5.8, 4.9, 4.8, 5.0, 5.3,
  4.6, 4.6, 4.9,
];

const STATE_G18 = [
  3.7, 3.6, 4.0, 4.3, 4.5, 4.4, 4.8, 5.2, 5.3, 5.1, 5.6, 6.1,
  6.2, 6.0, 6.6, 7.2, 6.1, 5.9, 6.5, 7.0, 5.3, 5.1, 5.6, 6.1,
  4.7, 4.5, 5.0, 5.4, 4.3, 4.1, 4.6, 5.0, 3.8, 3.7, 4.1, 4.4,
  3.7, 3.5, 3.9, 4.2, 3.5, 3.3, 3.7, 4.0, 3.2, 3.3, 3.5, 3.8,
  3.4, 3.5, 3.8, 4.0, 2.9, 3.0, 3.2, 3.4, 2.5, 2.6, 2.8, 2.9,
  2.4, 2.6, 2.7, 2.9, 2.6, 2.7, 2.9, 3.0, 2.8, 3.0, 3.1, 3.3,
  3.1, 3.2, 3.4, 3.6, 3.2, 3.4, 3.6, 3.8, 3.1, 3.2, 3.4, 3.6,
  3.4, 3.6, 3.8, 4.0, 4.2, 4.4, 4.7, 4.9, 4.6, 4.8, 5.1, 5.4,
  4.7, 4.9, 5.2, 5.5, 4.5, 4.8, 5.1, 5.4, 4.6, 4.9, 5.2, 5.5,
  4.9, 5.2, 5.6, 6.2, 5.6, 6.0, 6.8, 7.7, 6.5, 7.0, 7.9, 9.4,
  8.1, 8.4, 9.1, 10.1, 8.3, 8.0, 8.3, 8.7, 7.0, 6.8, 7.2, 7.6,
  6.3, 6.2, 6.7,
];

const GRAY_STATES = [
  STATE_G1, STATE_G2, STATE_G3, STATE_G4, STATE_G5, STATE_G6, STATE_G7,
  STATE_G8, STATE_G9, STATE_G10, STATE_G11, STATE_G12, STATE_G13, STATE_G14,
  STATE_G15, STATE_G16, STATE_G17, STATE_G18,
  HIGH_EARLY, ALASKA, LOUISIANA, MISSISSIPPI,
];

// ---------- annotations (data coordinates) ----------
const ALASKA_NOTE = { text: "Alaska", x: 1989.04, y: 14.19 };
const LOUISIANA_NOTE = { text: "Louisiana", x: 2006.06, y: 23.2 };
const KATRINA_NOTE = { text: "(Hurricane Katrina)", x: 2006.06, y: 22.47 };
const NEVADA_NOTE = { text: "Nevada", x: 2009.94, y: 16.3 };

const FONT = "'Liberation Sans', Arial, Helvetica, sans-serif";

function toPairs(values: number[]) {
  return values.map((v, i) => [FIRST_YEAR + i / 4, v]);
}

export default function App() {
  const ref = useRef<HTMLDivElement>(null);

  useEffect(() => {
    if (!ref.current) return;
    const chart = echarts.init(ref.current, undefined, { renderer: "svg" });

    const gridLines = [
      ...X_TICKS.map((v) => ({ xAxis: v, lineStyle: { color: "#e6e6e6", width: 1.6, type: "solid" } })),
      ...X_MINOR.map((v) => ({ xAxis: v, lineStyle: { color: "#f3f3f3", width: 1.6, type: "solid" } })),
      ...Y_TICKS.map((v) => ({ yAxis: v, lineStyle: { color: "#e6e6e6", width: 1.6, type: "solid" } })),
      ...Y_MINOR.map((v) => ({ yAxis: v, lineStyle: { color: "#f3f3f3", width: 1.6, type: "solid" } })),
    ];

    const series: any[] = [
      {
        type: "line",
        data: [],
        silent: true,
        z: 0,
        markLine: {
          silent: true,
          symbol: ["none", "none"],
          label: { show: false },
          animation: false,
          data: gridLines,
        },
      },
      ...GRAY_STATES.map((vals) => ({
        type: "line",
        data: toPairs(vals),
        showSymbol: false,
        symbol: "none",
        silent: true,
        z: 2,
        lineStyle: { color: "rgba(120,120,120,0.36)", width: 2 },
      })),
      {
        type: "line",
        data: toPairs(NEVADA),
        showSymbol: false,
        symbol: "none",
        silent: true,
        z: 5,
        lineStyle: { color: "#ff0000", width: 4.2 },
      },
    ];

    const axisCommon = {
      type: "value",
      axisLine: { show: true, onZero: false, lineStyle: { color: "#8a8a8a", width: 2.4 } },
      splitLine: { show: false },
      axisLabel: { color: "#000", fontSize: 20, fontFamily: FONT },
    };

    chart.setOption({
      animation: false,
      backgroundColor: "#ffffff",
      grid: { left: 83, right: 0, top: 9.6, bottom: 82.8, containLabel: false },
      xAxis: {
        ...axisCommon,
        min: X_MIN,
        max: X_MAX,
        axisTick: { show: true, length: 10, customValues: X_TICKS, lineStyle: { color: "#000", width: 2 } },
        axisLabel: { ...axisCommon.axisLabel, margin: 18, customValues: X_TICKS, formatter: (v: number) => String(v) },
      },
      yAxis: {
        ...axisCommon,
        min: Y_MIN,
        max: Y_MAX,
        axisTick: { show: true, length: 10, customValues: Y_TICKS, lineStyle: { color: "#000", width: 2 } },
        axisLabel: { ...axisCommon.axisLabel, margin: 24, customValues: Y_TICKS, formatter: (v: number) => String(v) },
      },
      series,
    });

    const px = (x: number, y: number) => chart.convertToPixel({ gridIndex: 0 }, [x, y]) as number[];
    const a = px(ALASKA_NOTE.x, ALASKA_NOTE.y);
    const l = px(LOUISIANA_NOTE.x, LOUISIANA_NOTE.y);
    const k = px(KATRINA_NOTE.x, KATRINA_NOTE.y);
    const n = px(NEVADA_NOTE.x, NEVADA_NOTE.y);

    chart.setOption({
      graphic: [
        {
          type: "text", x: a[0], y: a[1], z: 10,
          style: { text: ALASKA_NOTE.text, fill: "#000", font: `20px ${FONT}`, align: "left", verticalAlign: "middle" },
        },
        {
          type: "text", x: l[0], y: l[1], z: 10,
          style: { text: LOUISIANA_NOTE.text, fill: "#000", font: `20.5px ${FONT}`, align: "left", verticalAlign: "middle" },
        },
        {
          type: "text", x: k[0], y: k[1], z: 10,
          style: { text: KATRINA_NOTE.text, fill: "#000", font: `15.5px ${FONT}`, align: "left", verticalAlign: "middle" },
        },
        {
          type: "rect", z: 10,
          shape: { x: n[0] - 47, y: n[1] - 16.5, width: 94, height: 33 },
          style: { fill: "#ff0000" },
        },
        {
          type: "text", x: n[0], y: n[1], z: 11,
          style: { text: NEVADA_NOTE.text, fill: "#ffffff", font: `20px ${FONT}`, align: "center", verticalAlign: "middle" },
        },
        {
          type: "text", x: 18, y: 389, rotation: Math.PI / 2, z: 10,
          style: { text: "Percentage of All Mortgages Serviced (by Quarter)", fill: "#000", font: `20.8px ${FONT}`, align: "center", verticalAlign: "middle" },
        },
        {
          type: "text", x: 672, y: 819, z: 10,
          style: { text: "Date", fill: "#000", font: `20px ${FONT}`, align: "center", verticalAlign: "middle" },
        },
      ],
    });

    return () => chart.dispose();
  }, []);

  return (
    <div
      ref={ref}
      style={{ position: "fixed", left: 0, top: 0, width: 1301, height: 829, background: "#fff" }}
    />
  );
}
